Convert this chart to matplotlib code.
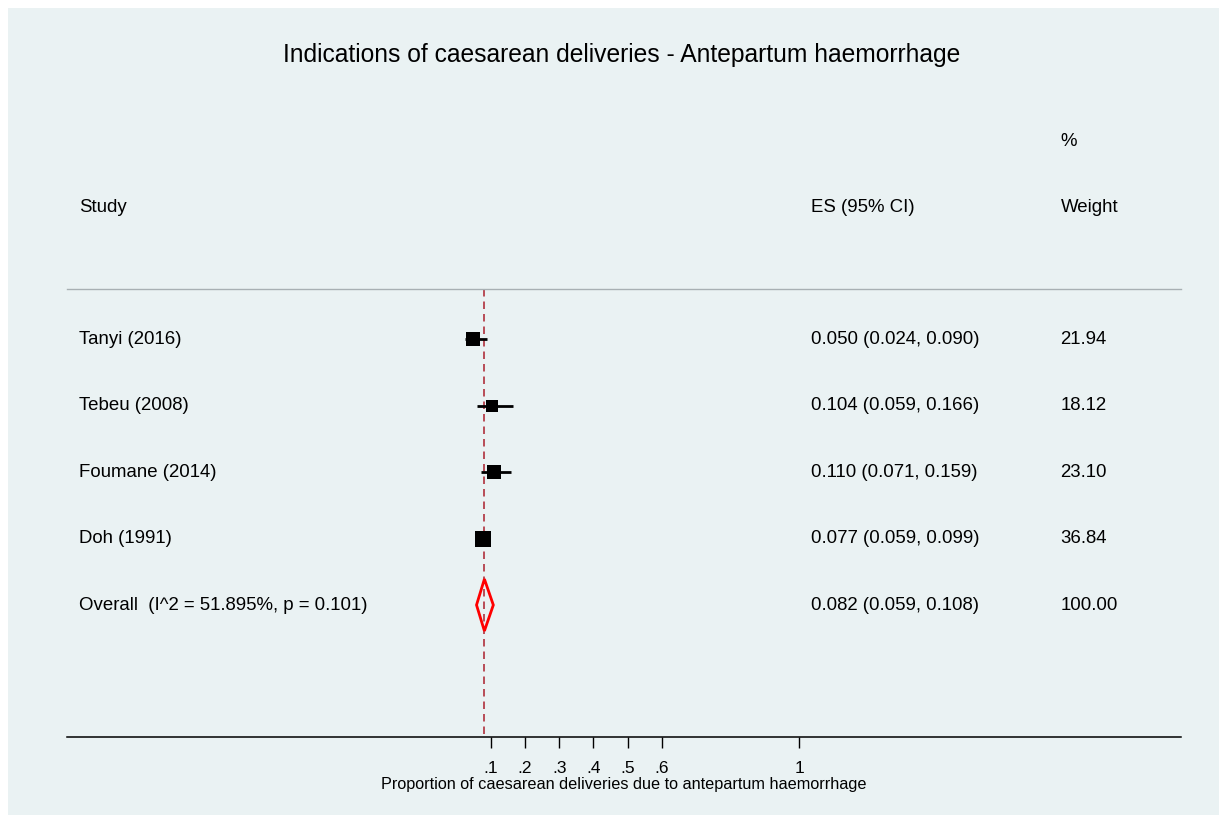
import numpy as np
import matplotlib.pyplot as plt
from matplotlib.patches import Rectangle, Polygon

plt.rcParams['font.family'] = ['Liberation Sans', 'DejaVu Sans']

# data
studies = ['Tanyi (2016)', 'Tebeu (2008)', 'Foumane (2014)', 'Doh (1991)']
es = [0.050, 0.104, 0.110, 0.077]
lo = [0.024, 0.059, 0.071, 0.059]
hi = [0.090, 0.166, 0.159, 0.099]
weights = [21.94, 18.12, 23.10, 36.84]
overall_label = 'Overall  (I^2 = 51.895%, p = 0.101)'
overall_es, overall_lo, overall_hi = 0.082, 0.059, 0.108
tick_vals = [0.1, 0.2, 0.3, 0.4, 0.5, 0.6, 1]
tick_labels = ['.1', '.2', '.3', '.4', '.5', '.6', '1']

W, H = 1227, 823
fig = plt.figure(figsize=(W / 100, H / 100), dpi=100, facecolor='white')
bg = '#eaf2f3'
fig.add_artist(Rectangle((8 / W, 8 / H), (1219 - 8) / W, (815 - 8) / H,
                         transform=fig.transFigure, facecolor=bg,
                         edgecolor='none', zorder=-10))

# axes: bottom spine is the x axis line, top at the header rule
ax = fig.add_axes([67 / W, (H - 737) / H, (1181 - 67) / W, (737 - 289) / H])
ax.set_zorder(5)
ax.patch.set_visible(False)
ax.set_xlim(-1.135, 2.113)
ax.set_ylim(5.985, -0.752)
for s in ['top', 'left', 'right']:
    ax.spines[s].set_visible(False)
ax.spines['bottom'].set_linewidth(1.1)
ax.set_yticks([])
ax.set_xticks(tick_vals)
ax.set_xticklabels(tick_labels, fontsize=12.5)
ax.tick_params(axis='x', direction='out', length=8, width=1.0, pad=9)

fs = 13.4
rows = np.arange(len(studies))

# header rule
ax.axhline(-0.752, color='#a8b0b3', lw=1.0, clip_on=False)

# overall dashed line
ax.plot([overall_es, overall_es], [-0.752, 5.985], color='#b0303c', lw=1.2,
        dashes=(4.5, 3), zorder=1)

# CIs and squares (box size grows with weight)
for i in rows:
    ax.plot([lo[i], hi[i]], [i, i], color='black', lw=2, solid_capstyle='butt', zorder=2)
    side = (6 + 1.5 * np.sqrt(weights[i])) * 0.72
    ax.plot(es[i], i, marker='s', ms=side, color='black', mec='black', mew=0, zorder=3)

# overall diamond
yo = len(studies)
ax.add_patch(Polygon([[overall_lo, yo], [overall_es, yo - 0.39],
                      [overall_hi, yo], [overall_es, yo + 0.39]],
                     closed=True, fill=False, edgecolor='red', lw=2, zorder=4))

# text columns
x_study, x_es, x_w = -1.100, 1.033, 1.762
labels = studies + [overall_label]
es_txt = ['%.3f (%.3f, %.3f)' % (e, l, h) for e, l, h in zip(es, lo, hi)]
es_txt.append('%.3f (%.3f, %.3f)' % (overall_es, overall_lo, overall_hi))
w_txt = ['%.2f' % w for w in weights] + ['100.00']
for i, (a, b, c) in enumerate(zip(labels, es_txt, w_txt)):
    ax.text(x_study, i, a, fontsize=fs, va='center', ha='left', clip_on=False)
    ax.text(x_es, i, b, fontsize=fs, va='center', ha='left', clip_on=False)
    ax.text(x_w, i, c, fontsize=fs, va='center', ha='left', clip_on=False)

ax.text(x_study, -1.985, 'Study', fontsize=fs, va='center', ha='left', clip_on=False)
ax.text(x_es, -1.985, 'ES (95% CI)', fontsize=fs, va='center', ha='left', clip_on=False)
ax.text(x_w, -1.985, 'Weight', fontsize=fs, va='center', ha='left', clip_on=False)
ax.text(x_w, -2.977, '%', fontsize=fs, va='center', ha='left', clip_on=False)

fig.text(621.5 / W, 1 - 55 / H, 'Indications of caesarean deliveries - Antepartum haemorrhage',
         fontsize=17.7, ha='center', va='center')
fig.text(623.5 / W, 1 - 784 / H, 'Proportion of caesarean deliveries due to antepartum haemorrhage',
         fontsize=11.7, ha='center', va='center')

fig.savefig('out.png', dpi=100, facecolor='white')
